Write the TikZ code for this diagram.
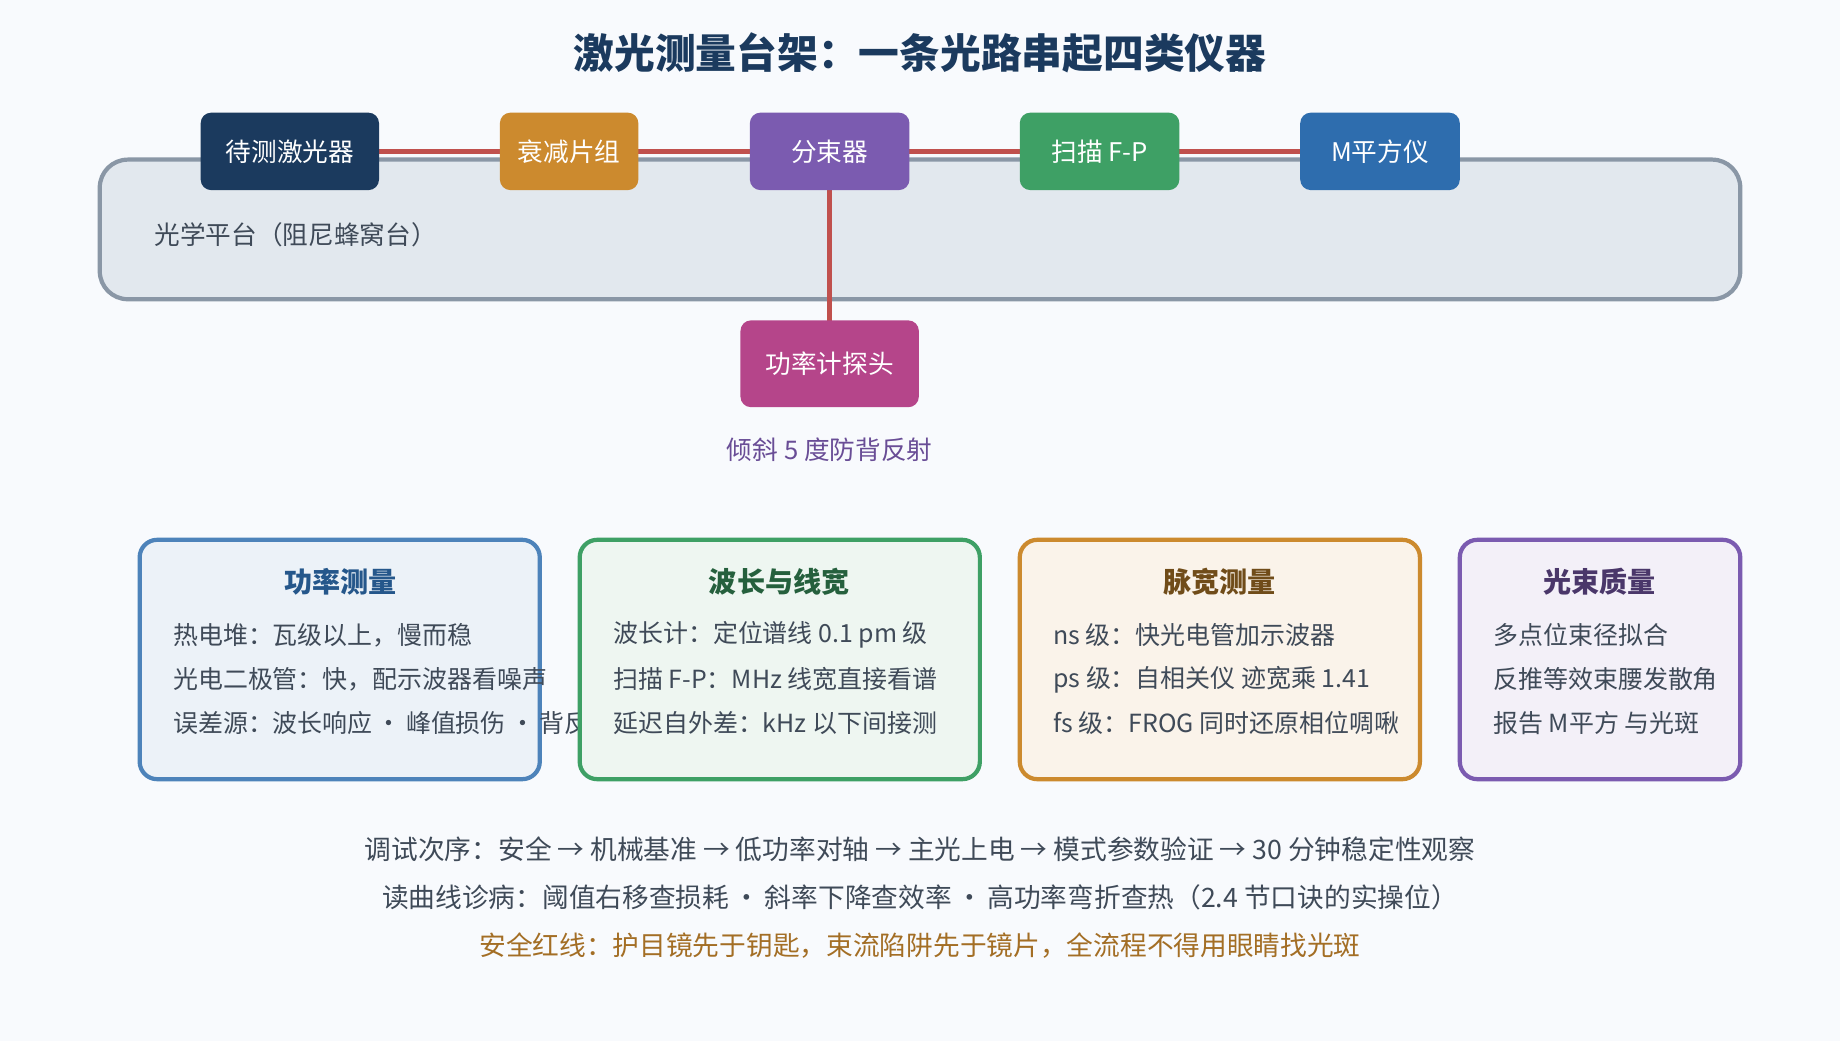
\documentclass[tikz,border=0pt]{standalone}
\usepackage{fontspec}
\setmainfont{Noto Sans CJK SC}
\usetikzlibrary{positioning}
\definecolor{bgpage}{HTML}{F8FAFD}
\definecolor{navy}{HTML}{1B3A5E}
\definecolor{beam}{HTML}{C0504D}
\definecolor{tablefill}{HTML}{E2E8EE}
\definecolor{tableline}{HTML}{8A97A6}
\definecolor{ochre}{HTML}{CC8A2E}
\definecolor{violet}{HTML}{7B5BB0}
\definecolor{leaf}{HTML}{3EA065}
\definecolor{sky}{HTML}{2E6DAE}
\definecolor{rose}{HTML}{B5458A}
\definecolor{txt}{HTML}{3F4A58}
\def\px{0.11735mm}
\tikzset{
  dev/.style={rounded corners=3pt, text=white, minimum height=66*\px, font=\fontsize{7.3}{9}\selectfont, inner sep=0pt},
  card/.style={rounded corners=5pt, line width=1.2pt},
  cardtitle/.style={font=\fontsize{8}{10}\selectfont\bfseries},
  cardline/.style={anchor=west, text=txt, font=\fontsize{7.1}{9}\selectfont},
  foot/.style={text=txt, font=\fontsize{7.6}{9}\selectfont}
}
\begin{document}
\begin{tikzpicture}[x=\px, y=-\px]
  \fill[bgpage] (0,0) rectangle (1568,887);
  \node[font=\fontsize{11.6}{13}\selectfont\bfseries, text=navy] (title) at (784,45) {激光测量台架：一条光路串起四类仪器};

  % platform
  \draw[tableline, fill=tablefill, line width=1.2pt, rounded corners=8pt] (85,136) rectangle (1483,255);
  \node[text=txt, font=\fontsize{7.3}{9}\selectfont] (table) at (252,200) {光学平台（阻尼蜂窝台）};

  % beam first, devices on top
  \coordinate (splitc) at (707,129);
  \draw[beam, line width=1.6pt] (247,129) -- (1176,129);
  \draw[beam, line width=1.6pt] (splitc) -- (707,280);

  \node[dev, fill=navy, minimum width=152*\px] (laser) at (247,129) {待测激光器};
  \node[dev, fill=ochre, minimum width=118*\px] (atten) at (485,129) {衰减片组};
  \node[dev, fill=violet, minimum width=136*\px] (split) at (splitc) {分束器};
  \node[dev, fill=leaf, minimum width=136*\px] (fp) at (937,129) {扫描 F-P};
  \node[dev, fill=sky, minimum width=136*\px] (msq) at (1176,129) {M平方仪};
  \node[dev, fill=rose, minimum width=152*\px, minimum height=74*\px] (probe) at (707,310) {功率计探头};
  \node[text=violet!85!black, font=\fontsize{7.3}{9}\selectfont, below=15*\px of probe] (tilt) {倾斜 5 度防背反射};

  % cards
  \draw[card, draw=sky!85, fill=sky!9] (119,460) rectangle (460,664);
  \node[cardtitle, text=sky!80!black] (powt) at (290,496) {功率测量};
  \node[cardline] (pow1) at (137,541) {热电堆：瓦级以上，慢而稳};
  \node[cardline] (pow2) at (137,579) {光电二极管：快，配示波器看噪声};
  \node[cardline] (pow3) at (137,616) {误差源：波长响应\,·\,峰值损伤\,·\,背反射};

  \draw[card, draw=leaf, fill=leaf!9] (494,460) rectangle (835,664);
  \node[cardtitle, text=leaf!60!black] (wavt) at (664,496) {波长与线宽};
  \node[cardline] (wav1) at (512,541) {波长计：定位谱线 0.1 pm 级};
  \node[cardline] (wav2) at (512,579) {扫描 F-P：MHz 线宽直接看谱};
  \node[cardline] (wav3) at (512,616) {延迟自外差：kHz 以下间接测};

  \draw[card, draw=ochre, fill=ochre!10] (869,460) rectangle (1210,664);
  \node[cardtitle, text=ochre!55!black] (pult) at (1039,496) {脉宽测量};
  \node[cardline] (pul1) at (887,541) {ns 级：快光电管加示波器};
  \node[cardline] (pul2) at (887,579) {ps 级：自相关仪 迹宽乘 1.41};
  \node[cardline] (pul3) at (887,616) {fs 级：FROG 同时还原相位啁啾};

  \draw[card, draw=violet, fill=violet!9] (1244,460) rectangle (1483,664);
  \node[cardtitle, text=violet!60!black] (beamt) at (1363,496) {光束质量};
  \node[cardline] (bq1) at (1262,541) {多点位束径拟合};
  \node[cardline] (bq2) at (1262,579) {反推等效束腰发散角};
  \node[cardline] (bq3) at (1262,616) {报告 M平方 与光斑};

  % footer
  \node[foot] (order) at (784,724) {调试次序：安全 → 机械基准 → 低功率对轴 → 主光上电 → 模式参数验证 → 30 分钟稳定性观察};
  \node[foot] (curve) at (784,765) {读曲线诊病：阈值右移查损耗\,·\,斜率下降查效率\,·\,高功率弯折查热（2.4 节口诀的实操位）};
  \node[foot, text=ochre!80!black] (safe) at (784,806) {安全红线：护目镜先于钥匙，束流陷阱先于镜片，全流程不得用眼睛找光斑};
\end{tikzpicture}
\end{document}
